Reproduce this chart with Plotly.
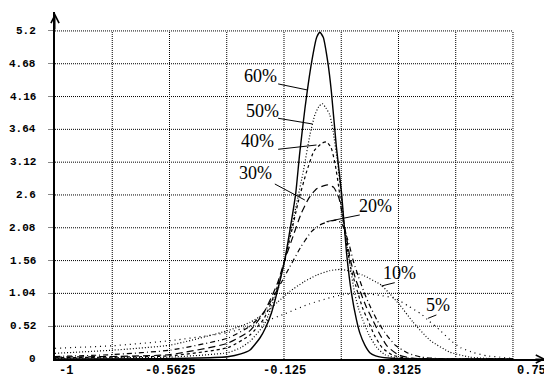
import plotly.graph_objects as go

# ---------------- data ----------------
x60 = [-1.0, -0.6, -0.45, -0.34, -0.29, -0.255, -0.217, -0.195, -0.173, -0.15, -0.122, -0.096, -0.08, -0.065,
       -0.045, -0.02, 0.0, 0.012, 0.025, 0.043, 0.056, 0.075, 0.095, 0.114, 0.133, 0.152, 0.165, 0.184, 0.203,
       0.225, 0.25, 0.3, 0.75]
y60 = [0.0, 0.005, 0.016, 0.036, 0.08, 0.143, 0.333, 0.5, 0.73, 1.08, 1.57, 2.2, 2.63, 3.26,
       3.97, 4.69, 5.1, 5.18, 5.1, 4.69, 4.24, 3.37, 2.63, 1.68, 1.04, 0.62, 0.41, 0.22, 0.1,
       0.05, 0.025, 0.008, 0.0]

x50 = [-1.0, -0.78, -0.56, -0.34, -0.29, -0.255, -0.2, -0.15, -0.122, -0.103, -0.08, -0.05, -0.026, -0.007,
       0.008, 0.021, 0.035, 0.05, 0.063, 0.08, 0.095, 0.107, 0.125, 0.145, 0.16, 0.176, 0.2, 0.23, 0.26, 0.3,
       0.38, 0.75]
y50 = [0.01, 0.02, 0.03, 0.1, 0.18, 0.28, 0.55, 1.1, 1.57, 1.94, 2.4, 3.0, 3.55, 3.87,
       4.0, 4.05, 3.98, 3.87, 3.6, 3.1, 2.55, 2.04, 1.55, 1.04, 0.8, 0.62, 0.38, 0.18, 0.07, 0.02,
       0.0, 0.0]

x40 = [-1.0, -0.78, -0.56, -0.34, -0.255, -0.2, -0.15, -0.122, -0.1, -0.07, -0.04, -0.01, 0.02, 0.038,
       0.055, 0.07, 0.085, 0.1, 0.115, 0.13, 0.15, 0.176, 0.195, 0.22, 0.25, 0.29, 0.34, 0.42, 0.75]
y40 = [0.02, 0.03, 0.05, 0.18, 0.38, 0.65, 1.15, 1.57, 1.95, 2.5, 2.95, 3.3, 3.42, 3.44,
       3.35, 3.1, 2.7, 2.2, 1.8, 1.45, 1.15, 0.8, 0.62, 0.38, 0.18, 0.06, 0.015, 0.0, 0.0]

x30 = [-1.0, -0.78, -0.56, -0.34, -0.255, -0.2, -0.15, -0.122, -0.09, -0.06, -0.03, 0.0, 0.04, 0.065,
       0.085, 0.1, 0.115, 0.13, 0.15, 0.17, 0.19, 0.214, 0.24, 0.27, 0.31, 0.36, 0.45, 0.75]
y30 = [0.03, 0.04, 0.07, 0.25, 0.45, 0.75, 1.2, 1.57, 1.95, 2.3, 2.55, 2.7, 2.76, 2.72,
       2.55, 2.25, 1.9, 1.55, 1.25, 1.03, 0.82, 0.62, 0.4, 0.2, 0.07, 0.015, 0.0, 0.0]

x20 = [-1.0, -0.78, -0.56, -0.34, -0.255, -0.2, -0.15, -0.103, -0.06, -0.02, 0.01, 0.04, 0.075, 0.095,
       0.11, 0.125, 0.14, 0.16, 0.18, 0.2, 0.23, 0.26, 0.3, 0.35, 0.4, 0.45, 0.75]
y20 = [0.04, 0.07, 0.14, 0.33, 0.52, 0.75, 1.1, 1.46, 1.78, 2.02, 2.12, 2.17, 2.2, 2.15,
       2.0, 1.8, 1.55, 1.3, 1.07, 0.87, 0.62, 0.42, 0.22, 0.09, 0.03, 0.01, 0.0]

x10 = [-1.0, -0.78, -0.56, -0.34, -0.255, -0.2, -0.15, -0.103, -0.05, 0.0, 0.05, 0.09, 0.12, 0.176,
       0.247, 0.28, 0.317, 0.367, 0.432, 0.508, 0.585, 0.65, 0.75]
y10 = [0.09, 0.14, 0.22, 0.45, 0.58, 0.72, 0.9, 1.07, 1.22, 1.33, 1.4, 1.42, 1.4, 1.33,
       1.17, 1.03, 0.86, 0.59, 0.3, 0.11, 0.03, 0.01, 0.0]

x5 = [-1.0, -0.78, -0.56, -0.34, -0.22, -0.12, -0.03, 0.05, 0.1, 0.165, 0.24, 0.3, 0.35, 0.4,
      0.43, 0.47, 0.51, 0.55, 0.6, 0.65, 0.7, 0.75]
y5 = [0.17, 0.21, 0.29, 0.42, 0.56, 0.72, 0.87, 0.97, 1.02, 1.04, 1.01, 0.96, 0.84, 0.71,
      0.6, 0.46, 0.3, 0.18, 0.1, 0.05, 0.03, 0.01]

series_names = ["60%", "50%", "40%", "30%", "20%", "10%", "5%"]
series_x = [x60, x50, x40, x30, x20, x10, x5]
series_y = [y60, y50, y40, y30, y20, y10, y5]

ytick_vals = [0, 0.52, 1.04, 1.56, 2.08, 2.6, 3.12, 3.64, 4.16, 4.68, 5.2]
ytick_text = ["0", "0.52", "1.04", "1.56", "2.08", "2.6", "3.12", "3.64", "4.16", "4.68", "5.2"]
xgrid_vals = [-1, -0.78125, -0.5625, -0.34375, -0.125, 0.09375, 0.3125, 0.53125, 0.75]
xtick_vals = [-1, -0.5625, -0.125, 0.3125, 0.75]
xtick_text = ["-1", "-0.5625", "-0.125", "0.3125", "0.75"]

# ---------------- styling ----------------
dashes = {"60%": "solid", "50%": "1px,2px", "40%": "3px,3px", "30%": "7px,4px",
          "20%": "5px,3px,1px,3px", "10%": "1px,2px", "5%": "1px,4px"}
widths = {"60%": 1.4, "50%": 1.2, "40%": 1.2, "30%": 1.2, "20%": 1.2, "10%": 1.2, "5%": 1.2}

# label placement: (text x, text y, leader start x, y, leader end x, y)
label_pos = {
    "60%": (-0.2153, 4.486, -0.1474, 4.36, -0.0367, 4.265),
    "50%": (-0.2077, 3.93, -0.1474, 3.816, -0.016, 3.725),
    "40%": (-0.2268, 3.448, -0.1474, 3.324, -0.0008, 3.392),
    "30%": (-0.2344, 2.949, -0.16, 2.774, -0.0455, 2.52),
    "20%": (0.2237, 2.425, 0.1646, 2.283, 0.0374, 2.177),
    "10%": (0.3173, 1.363, 0.2982, 1.21, 0.2474, 1.157),
    "5%": (0.4643, 0.856, 0.4574, 0.698, 0.4254, 0.645),
}

XMIN, XMAX = -1.0, 0.88
YMIN, YMAX = 0.0, 5.5

fig = go.Figure()
for name, xs, ys in zip(series_names, series_x, series_y):
    fig.add_trace(go.Scatter(
        x=xs, y=ys, mode="lines", name=name,
        line=dict(color="black", width=widths[name], dash=dashes[name], shape="spline", smoothing=0.5),
        hoverinfo="skip", showlegend=False))

shapes = []
for yv in ytick_vals[1:]:
    shapes.append(dict(type="line", xref="x", yref="y", x0=xgrid_vals[0], x1=xgrid_vals[-1], y0=yv, y1=yv,
                       line=dict(color="black", width=1, dash="1px,1px"), layer="below"))
for xv in xgrid_vals[1:]:
    shapes.append(dict(type="line", xref="x", yref="y", x0=xv, x1=xv, y0=ytick_vals[0], y1=ytick_vals[-1],
                       line=dict(color="black", width=1, dash="1px,1px"), layer="below"))
for name in series_names:
    tx, ty, lx0, ly0, lx1, ly1 = label_pos[name]
    shapes.append(dict(type="line", xref="x", yref="y", x0=lx0, y0=ly0, x1=lx1, y1=ly1,
                       line=dict(color="black", width=1)))

annotations = []
ytick_font = dict(family="Liberation Mono", size=11, color="black", weight="bold")
xtick_font = dict(family="Liberation Mono", size=12, color="black", weight="bold")
for yv, yt in zip(ytick_vals, ytick_text):
    annotations.append(dict(x=XMIN, y=yv, xref="x", yref="y", text=yt, showarrow=False,
                            xanchor="right", yanchor="middle", xshift=-17, font=ytick_font))
for i, (xv, xt) in enumerate(zip(xtick_vals, xtick_text)):
    end = i == 0 or i == len(xtick_vals) - 1
    annotations.append(dict(x=xv, y=YMIN, xref="x", yref="y", text=xt, showarrow=False,
                            xanchor="left" if end else "center", yanchor="top",
                            xshift=2 if end else 1, yshift=-3, font=xtick_font))
for name in series_names:
    tx, ty = label_pos[name][:2]
    annotations.append(dict(x=tx, y=ty, xref="x", yref="y", text=name, showarrow=False,
                            xanchor="center", yanchor="middle",
                            font=dict(family="Liberation Serif", size=18, color="black")))
# axis arrow heads
annotations.append(dict(x=XMAX - 0.005, y=YMIN, ax=XMAX - 0.05, ay=YMIN, xref="x", yref="y",
                        axref="x", ayref="y", text="", showarrow=True, arrowhead=5, arrowsize=1.6,
                        arrowwidth=1, arrowcolor="black"))
annotations.append(dict(x=XMIN, y=YMAX - 0.02, ax=XMIN, ay=YMAX - 0.3, xref="x", yref="y",
                        axref="x", ayref="y", text="", showarrow=True, arrowhead=5, arrowsize=1.6,
                        arrowwidth=1, arrowcolor="black"))

# the page body adds an 8px offset, so the figure is 8px smaller and margins shifted
fig.update_layout(
    width=544, height=375,
    margin=dict(l=47, r=5, t=4, b=24, autoexpand=False),
    paper_bgcolor="white", plot_bgcolor="white",
    shapes=shapes, annotations=annotations,
    xaxis=dict(range=[XMIN, XMAX], showgrid=False, zeroline=False, showticklabels=False,
               showline=True, linecolor="black", linewidth=2, ticks="", fixedrange=True,
               automargin=False),
    yaxis=dict(range=[YMIN, YMAX], showgrid=False, zeroline=False, showticklabels=False,
               showline=True, linecolor="black", linewidth=2, ticks="outside", ticklen=5,
               tickcolor="#888", tickvals=ytick_vals[1:], fixedrange=True, automargin=False),
)

fig.write_html("out.html")
